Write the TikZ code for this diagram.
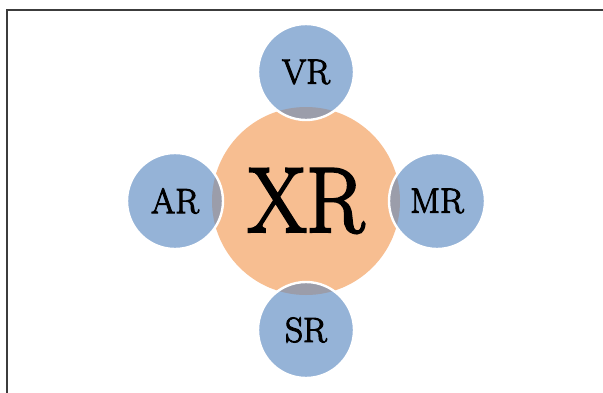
\documentclass[tikz,border=0pt]{standalone}
\usepackage{fontspec}
\setmainfont{Latin Modern Roman}
\newfontfamily\labfont{Latin Modern Roman}[FakeBold=3]
\definecolor{xorange}{RGB}{247,190,145}
\definecolor{xblue}{RGB}{149,179,215}
\definecolor{xgray}{RGB}{155,157,170}
\definecolor{xframe}{RGB}{60,60,60}
\begin{document}
\begin{tikzpicture}[x=1pt,y=-1pt,
  bigcircle/.style={circle, minimum size=188pt, inner sep=0pt, fill=xorange,
    font=\labfont\fontsize{92}{92}\selectfont},
  smallcircle/.style={circle, minimum size=96pt, inner sep=0pt, fill=xblue,
    font=\labfont\fontsize{35}{35}\selectfont},
  rim/.style={draw=white, line width=2.4pt},
  lens/.style={fill=xgray}]
\useasboundingbox (0,0) rectangle (603,392);
\fill[white] (0,0) rectangle (603,392);
\draw[xframe, line width=1.3pt] (7,10) rectangle (610,400);
\node[bigcircle] (xr) at (306,201) {\scalebox{0.92}[1]{XR}};
\node[smallcircle] (vr) at (306,72) {VR};
\node[smallcircle] (ar) at (175,201) {AR};
\node[smallcircle] (mr) at (437,201) {MR};
\node[smallcircle] (sr) at (306,330) {SR};
\foreach \s in {vr,ar,mr,sr}{
  \begin{scope}
    \clip (\s.center) circle[radius=48pt];
    \fill[lens] (xr.center) circle[radius=94pt];
  \end{scope}
  \draw[rim] (\s.center) circle[radius=48pt];
}
\end{tikzpicture}
\end{document}
